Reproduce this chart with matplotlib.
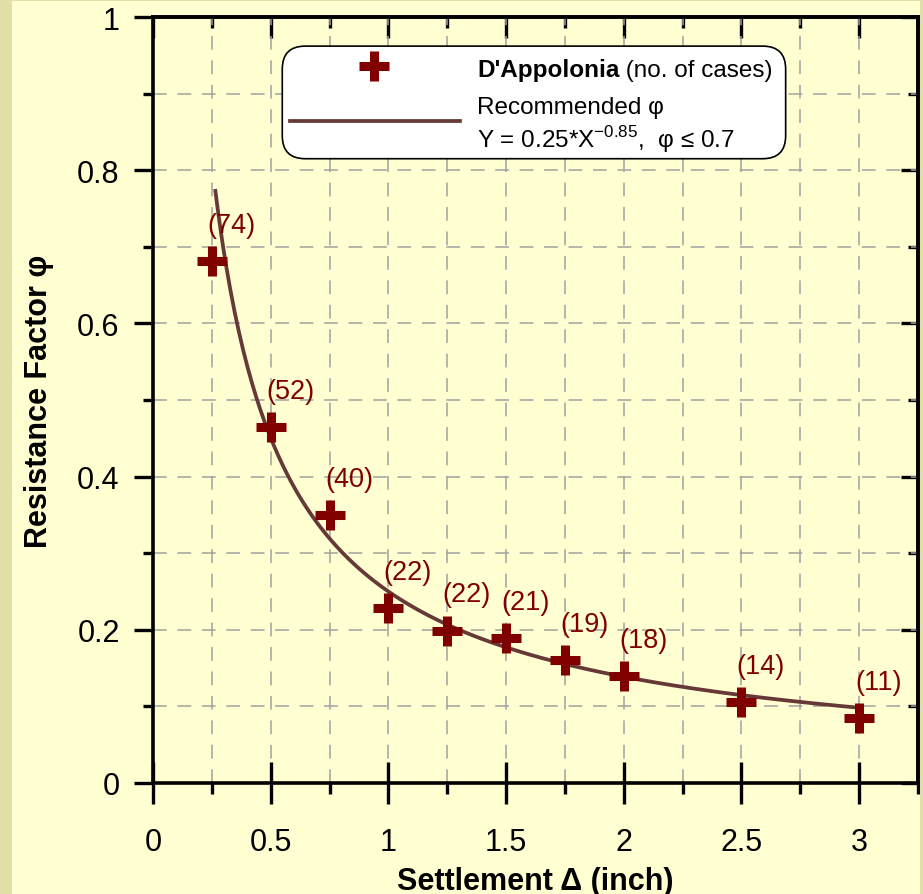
import numpy as np
import matplotlib
matplotlib.use("Agg")
import matplotlib.pyplot as plt
from matplotlib.patches import FancyBboxPatch, Rectangle
from matplotlib.ticker import MultipleLocator

plt.rcParams['font.family'] = ['Liberation Sans', 'DejaVu Sans']
plt.rcParams['mathtext.fontset'] = 'custom'
plt.rcParams['mathtext.rm'] = 'Liberation Sans'

# data
settlement = [0.25, 0.5, 0.75, 1.0, 1.25, 1.5, 1.75, 2.0, 2.5, 3.0]
phi = [0.681, 0.465, 0.350, 0.228, 0.199, 0.189, 0.160, 0.140, 0.106, 0.085]
n_cases = [74, 52, 40, 22, 22, 21, 19, 18, 14, 11]

# recommended curve  Y = a * X^b
FIT_A = 0.25
FIT_B = -0.85
CURVE_X_START = 0.265
CURVE_X_END = 3.0

BG = '#ffffd2'
DARK_RED = '#800000'
CURVE_COL = '#663838'
GRID_COL = '#a0a0a0'

fig = plt.figure(figsize=(9.23, 8.95), dpi=100, facecolor=BG)
W, H = 923, 895
fig.patches.append(Rectangle((0, 0), 12 / W, 1, transform=fig.transFigure,
                             facecolor='#e2dfa8', edgecolor='none', zorder=0))
fig.patches.append(Rectangle((0, 1 - 2 / H), 1, 2 / H, transform=fig.transFigure,
                             facecolor='#e2dfa8', edgecolor='none', zorder=0))
fig.patches.append(Rectangle((1 - 3 / W, 0), 3 / W, 1, transform=fig.transFigure,
                             facecolor='#e2dfa8', edgecolor='none', zorder=0))

ax = fig.add_axes([153 / W, (H - 784) / H, (918 - 153) / W, (784 - 18) / H])
ax.set_facecolor(BG)
ax.set_xlim(0, 3.25)
ax.set_ylim(0, 1)

# grid
for gx in np.arange(0.25, 3.01, 0.25):
    ax.axvline(gx, color=GRID_COL, lw=1.1, dashes=(9, 7), zorder=1)
for gy in np.arange(0.1, 0.95, 0.1):
    ax.axhline(gy, color=GRID_COL, lw=1.1, dashes=(9, 7), zorder=1)

# curve
xc = np.linspace(CURVE_X_START, CURVE_X_END, 300)
ax.plot(xc, FIT_A * xc ** FIT_B, color=CURVE_COL, lw=2.7, zorder=3)

# points
ax.plot(settlement, phi, linestyle='none', marker='+', markersize=22,
        markeredgewidth=6.5, color=DARK_RED, zorder=4)
for x, y, n in zip(settlement, phi, n_cases):
    ax.annotate(f"({n})", (x, y), xytext=(14, 26), textcoords='offset points',
                ha='center', va='center', fontsize=19.5, color=DARK_RED, zorder=5)

# spines and ticks
for s in ax.spines.values():
    s.set_linewidth(2.6)
    s.set_zorder(6)
ax.xaxis.set_minor_locator(MultipleLocator(0.25))
ax.yaxis.set_minor_locator(MultipleLocator(0.1))
ax.set_xticks([0, 0.5, 1, 1.5, 2, 2.5, 3])
ax.set_xticklabels(['0', '0.5', '1', '1.5', '2', '2.5', '3'])
ax.set_yticks([0, 0.2, 0.4, 0.6, 0.8, 1.0])
ax.set_yticklabels(['0', '0.2', '0.4', '0.6', '0.8', '1'])
ax.tick_params(axis='x', which='major', direction='inout', length=30, width=2.4,
               labelsize=22, pad=17)
ax.tick_params(axis='x', which='minor', direction='out', length=8, width=2.4)
ax.tick_params(axis='y', which='major', direction='out', length=14, width=2.4,
               labelsize=22, pad=10)
ax.tick_params(axis='y', which='minor', direction='out', length=7, width=2.4)

top = ax.secondary_xaxis('top')
top.xaxis.set_major_locator(MultipleLocator(0.5))
top.xaxis.set_minor_locator(MultipleLocator(0.25))
top.tick_params(which='major', direction='in', length=15, width=2.4, labeltop=False)
top.tick_params(which='minor', direction='in', length=8, width=2.4)
top.spines['top'].set_linewidth(2.6)

right = ax.secondary_yaxis('right')
right.yaxis.set_major_locator(MultipleLocator(0.2))
right.yaxis.set_minor_locator(MultipleLocator(0.1))
right.tick_params(which='major', direction='in', length=12, width=2.4, labelright=False)
right.tick_params(which='minor', direction='in', length=7, width=2.4)
right.spines['right'].set_linewidth(2.6)

ax.set_xlabel("Settlement \u0394 (inch)", fontsize=22, fontweight='bold', labelpad=6)
ax.set_ylabel("Resistance Factor \u03c6", fontsize=22, fontweight='bold', labelpad=17)

# legend box
box = FancyBboxPatch((0.169, 0.815), 0.827 - 0.169, 0.962 - 0.815,
                     boxstyle="round,pad=0,rounding_size=0.03",
                     transform=ax.transAxes, facecolor='white',
                     edgecolor='black', lw=1.2, zorder=7)
ax.add_patch(box)
ax.plot([0.289], [0.936], transform=ax.transAxes, linestyle='none', marker='+',
        markersize=22, markeredgewidth=6.5, color=DARK_RED, zorder=8)
ax.plot([0.179, 0.401], [0.864, 0.864], transform=ax.transAxes,
        color=CURVE_COL, lw=2.7, zorder=8)
t1 = ax.text(0.4235, 0.932, "D'Appolonia", transform=ax.transAxes, fontsize=17.5,
             fontweight='bold', va='center', ha='left', zorder=8)
ax.annotate(" (no. of cases)", xy=(1, 0), xycoords=t1, va='bottom', ha='left',
            fontsize=17.5, zorder=8)
ax.text(0.4235, 0.8825, "Recommended \u03c6", transform=ax.transAxes, fontsize=17.5,
        va='center', ha='left', zorder=8)
ax.text(0.4235, 0.841, "Y = 0.25*X$^{\\mathrm{-0.85}}$,  \u03c6 \u2264 0.7",
        transform=ax.transAxes, fontsize=17.5, va='center', ha='left', zorder=8)

fig.savefig('out.png', dpi=100, facecolor=BG)
